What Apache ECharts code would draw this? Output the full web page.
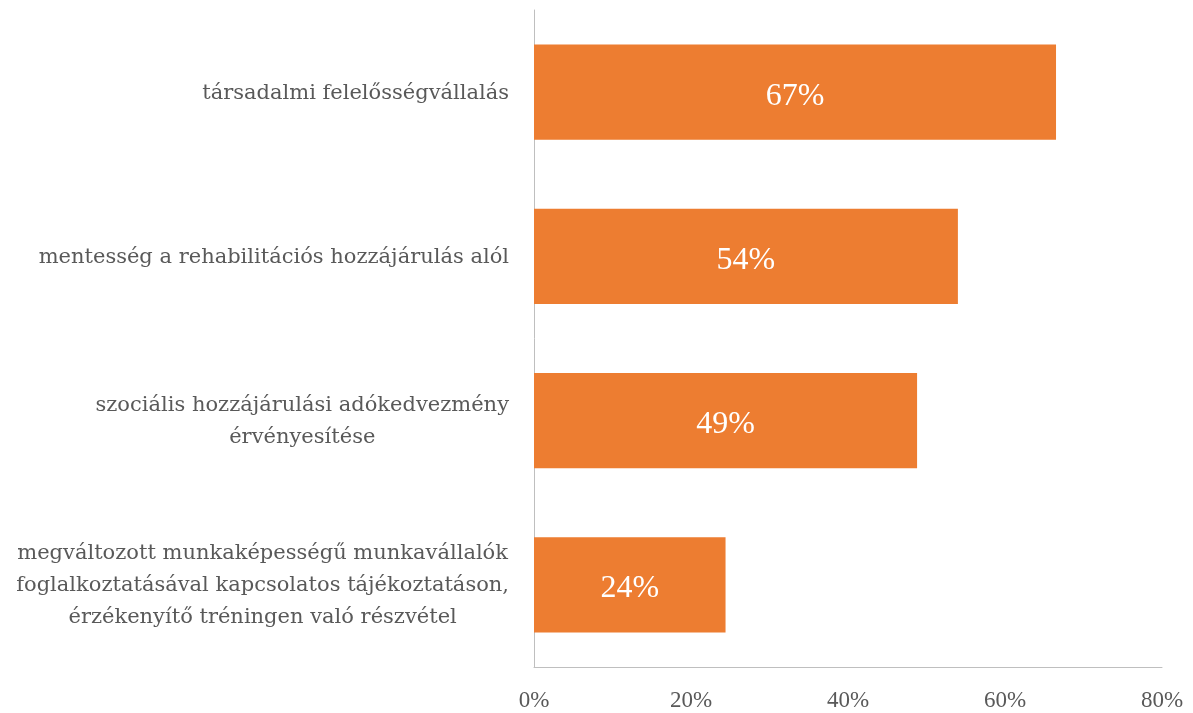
<!DOCTYPE html>
<html>
<head>
<meta charset="utf-8">
<script src="https://cdn.jsdelivr.net/npm/echarts@6/dist/echarts.min.js"></script>
<style>html,body{margin:0;padding:0;background:#fff;}#c{width:1193px;height:713px;}</style>
</head>
<body>
<div id="c"></div>
<script>
const categories = [
  "társadalmi felelősségvállalás",
  "mentesség a rehabilitációs hozzájárulás alól",
  "szociális hozzájárulási adókedvezmény\nérvényesítése",
  "megváltozott munkaképességű munkavállalók\nfoglalkoztatásával kapcsolatos tájékoztatáson,\nérzékenyítő tréningen való részvétel"
];
const values = [66.5, 54.0, 48.8, 24.4];
const tickMax = 80;
const tickInterval = 20;

const FONT = '"Liberation Serif", "DejaVu Serif", serif';
const CAT_FONT = '"DejaVu Serif", serif';
const chart = echarts.init(document.getElementById('c'), null, {renderer: 'canvas'});
chart.setOption({
  animation: false,
  grid: {left: 534, right: 31, top: 10, bottom: 46, containLabel: false},
  xAxis: {
    type: 'value', min: 0, max: tickMax, interval: tickInterval,
    axisLine: {show: true, lineStyle: {color: '#bfbfbf', width: 1}},
    axisTick: {show: false},
    splitLine: {show: false},
    axisLabel: {formatter: v => v + '%', color: '#595959', fontFamily: FONT, fontSize: 23, margin: 22}
  },
  yAxis: {
    type: 'category', data: categories, inverse: true,
    axisLine: {show: true, lineStyle: {color: '#bfbfbf', width: 1}},
    axisTick: {show: false},
    axisLabel: {
      margin: 25,
      formatter: v => v.split('\n').map(l => '{c|' + l + '}').join('\n'),
      rich: {c: {align: 'center', color: '#595959', fontFamily: CAT_FONT, fontSize: 21, lineHeight: 32, padding: [2, 0, 0, 0]}}
    }
  },
  series: [{
    type: 'bar', data: values, barCategoryGap: '42%',
    itemStyle: {color: '#ED7D31'},
    label: {show: true, position: 'inside', offset: [0, 4], color: '#ffffff', fontFamily: FONT, fontSize: 32,
      formatter: p => Math.round(p.value) + '%'}
  }]
});
</script>
</body>
</html>
